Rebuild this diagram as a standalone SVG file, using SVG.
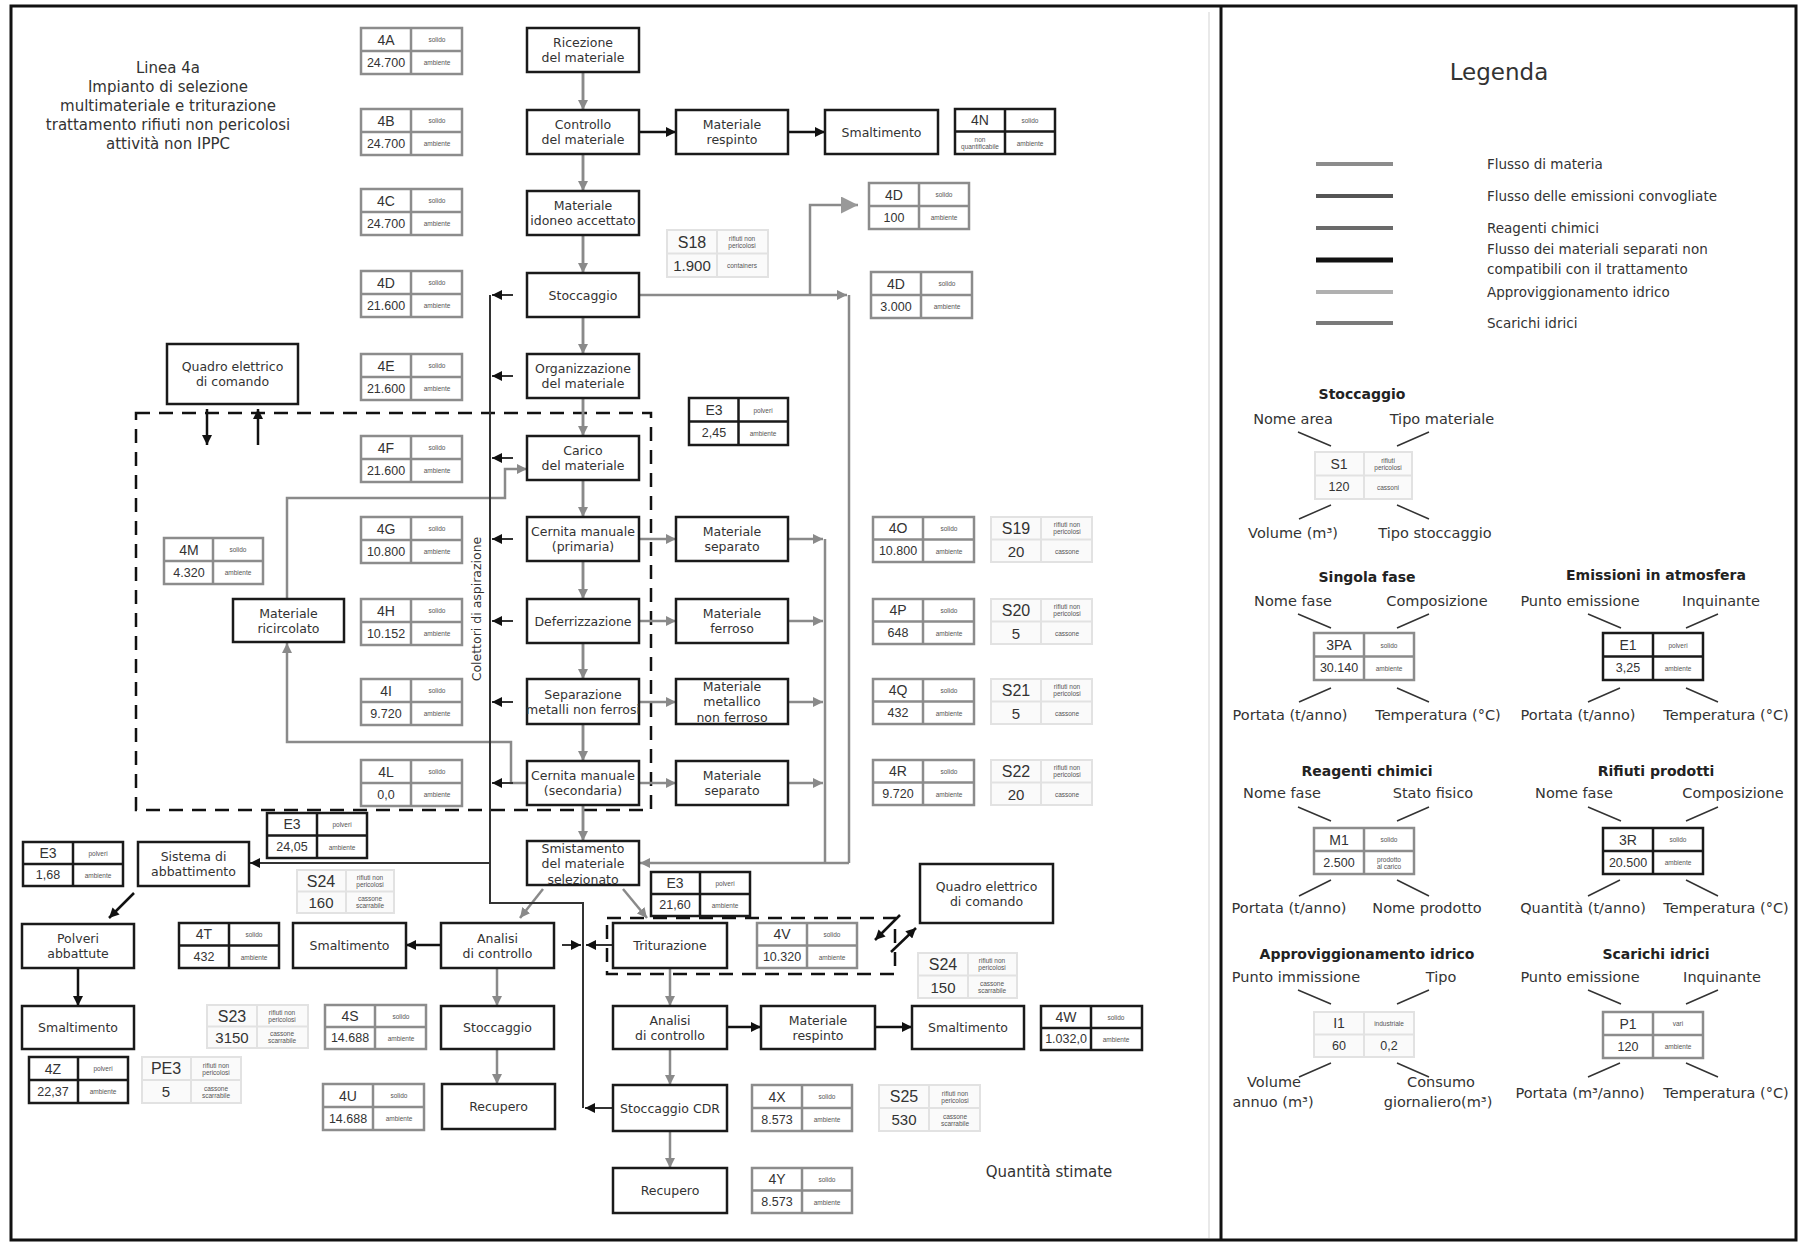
<svg xmlns="http://www.w3.org/2000/svg" width="1798" height="1242" viewBox="0 0 1798 1242">
<style>
.box{fill:#fff;stroke:#1a1a1a;stroke-width:2.5}
.bt{font-family:'DejaVu Sans',sans-serif;font-size:12.5px;fill:#333;text-anchor:middle;dominant-baseline:central}
.tg rect,.tg path{fill:#fff;stroke:#8c8c8c;stroke-width:2.5}
.tb rect,.tb path{fill:#fff;stroke:#1a1a1a;stroke-width:2.5}
.tl rect,.tl path{fill:#fafafa;stroke:#e2e2e2;stroke-width:2}
.tg path,.tb path,.tl path{fill:none}
.ti{font-family:'Liberation Sans',sans-serif;font-size:14px;fill:#333;text-anchor:middle;dominant-baseline:central}
.tv{font-family:'Liberation Sans',sans-serif;font-size:12.5px;fill:#333;text-anchor:middle;dominant-baseline:central}
.si{font-family:'Liberation Sans',sans-serif;font-size:16px;fill:#333;text-anchor:middle;dominant-baseline:central}
.sv{font-family:'Liberation Sans',sans-serif;font-size:15px;fill:#333;text-anchor:middle;dominant-baseline:central}
.ts{font-family:'Liberation Sans',sans-serif;font-size:6.5px;fill:#555;text-anchor:middle;dominant-baseline:central}
.cg{fill:none;stroke:#8a8a8a;stroke-width:2.5}
.ck{fill:none;stroke:#111;stroke-width:2.5}
.ce{fill:none;stroke:#333;stroke-width:2}
.dash{fill:none;stroke:#111;stroke-width:2.5;stroke-dasharray:14 9}
.lt{font-family:'DejaVu Sans',sans-serif;font-size:14.5px;fill:#333;text-anchor:middle;dominant-baseline:central}
.lh{font-family:'DejaVu Sans',sans-serif;font-size:14px;font-weight:bold;fill:#222;text-anchor:middle;dominant-baseline:central}
.ll{font-family:'DejaVu Sans',sans-serif;font-size:13.5px;fill:#333;dominant-baseline:central}
.lk{fill:none;stroke:#333;stroke-width:1.5}
.title{font-family:'DejaVu Sans',sans-serif;font-size:15px;fill:#333;text-anchor:middle;dominant-baseline:central}
</style>
<defs>
<marker id="mg" viewBox="0 0 10 10" refX="10" refY="5" markerWidth="10" markerHeight="10" markerUnits="userSpaceOnUse" orient="auto"><path d="M0,0 L10,5 L0,10 z" fill="#8a8a8a"/></marker>
<marker id="mk" viewBox="0 0 10 10" refX="10" refY="5" markerWidth="10" markerHeight="10" markerUnits="userSpaceOnUse" orient="auto"><path d="M0,0 L10,5 L0,10 z" fill="#111"/></marker>
<marker id="mb" viewBox="0 0 10 10" refX="10" refY="5" markerWidth="17" markerHeight="17" markerUnits="userSpaceOnUse" orient="auto"><path d="M0,0 L10,5 L0,10 z" fill="#999"/></marker>
</defs>
<rect width="1798" height="1242" fill="#fff"/>
<g id="frame">
<rect x="11" y="6" width="1785" height="1234" fill="none" stroke="#111" stroke-width="3"/>
<line x1="1209" y1="12" x2="1209" y2="1238" stroke="#e2e2e2" stroke-width="1.5"/>
<line x1="1221" y1="6" x2="1221" y2="1240" stroke="#111" stroke-width="3"/>
</g>
<g id="title">
<text class="title" x="168" y="68">Linea 4a</text>
<text class="title" x="168" y="87">Impianto di selezione</text>
<text class="title" x="168" y="106">multimateriale e triturazione</text>
<text class="title" x="168" y="125">trattamento rifiuti non pericolosi</text>
<text class="title" x="168" y="144">attività non IPPC</text>
</g>
<g id="dashed">
<rect class="dash" x="136" y="413" width="515" height="397"/>
<rect class="dash" x="607" y="918" width="288" height="56"/>
</g>
<g id="connectors">
<path class="cg" d="M583,72V110M583,154V191M583,235V273M583,317V354M583,398V436M583,480V517M583,561V599M583,643V679M583,724V761M583,805V841"/>
<path class="cg" marker-end="url(#mg)" d="M583,72V110"/><path class="cg" marker-end="url(#mg)" d="M583,154V191"/><path class="cg" marker-end="url(#mg)" d="M583,235V273"/><path class="cg" marker-end="url(#mg)" d="M583,317V354"/><path class="cg" marker-end="url(#mg)" d="M583,398V436"/><path class="cg" marker-end="url(#mg)" d="M583,480V517"/><path class="cg" marker-end="url(#mg)" d="M583,561V599"/><path class="cg" marker-end="url(#mg)" d="M583,643V679"/><path class="cg" marker-end="url(#mg)" d="M583,724V761"/><path class="cg" marker-end="url(#mg)" d="M583,805V841"/>
<path class="ck" marker-end="url(#mk)" d="M639,132H676"/>
<path class="ck" marker-end="url(#mk)" d="M788,132H825"/>
<path class="cg" marker-end="url(#mg)" d="M639,295H847"/>
<path class="cg" d="M849,295V863"/>
<path class="cg" marker-end="url(#mb)" d="M810,295V205H858"/>
<path class="cg" marker-end="url(#mg)" d="M639,539H676"/><path class="cg" marker-end="url(#mg)" d="M639,621H676"/><path class="cg" marker-end="url(#mg)" d="M639,702H676"/><path class="cg" marker-end="url(#mg)" d="M639,783H676"/>
<path class="cg" marker-end="url(#mg)" d="M788,539H823"/><path class="cg" marker-end="url(#mg)" d="M788,621H823"/><path class="cg" marker-end="url(#mg)" d="M788,702H823"/><path class="cg" marker-end="url(#mg)" d="M788,783H823"/>
<path class="cg" d="M825,539V863"/>
<path class="cg" marker-end="url(#mg)" d="M849,863H640"/>
<path class="cg" marker-end="url(#mg)" d="M543,889L520,918"/>
<path class="cg" marker-end="url(#mg)" d="M623,889L647,918"/>
<path class="cg" marker-end="url(#mg)" d="M497,968V1006"/><path class="cg" marker-end="url(#mg)" d="M497,1049V1084"/>
<path class="cg" marker-end="url(#mg)" d="M670,968V1006"/><path class="cg" marker-end="url(#mg)" d="M670,1049V1085"/><path class="cg" marker-end="url(#mg)" d="M670,1131V1168"/>
<path class="cg" marker-end="url(#mg)" d="M527,783H511V742H287V643"/>
<path class="cg" marker-end="url(#mg)" d="M287,599V498H505V469H527"/>
<path class="ck" marker-end="url(#mk)" d="M441,945H406"/>
<path class="ck" marker-end="url(#mk)" d="M727,1027H761"/>
<path class="ck" marker-end="url(#mk)" d="M875,1027H912"/>
<path class="ck" marker-end="url(#mk)" d="M78,968V1006"/>
<path class="ck" marker-end="url(#mk)" d="M134,893L109,918"/>
<path class="ck" marker-end="url(#mk)" d="M207,409V445"/>
<path class="ck" marker-end="url(#mk)" d="M258,445V409"/>
<path class="ck" marker-end="url(#mk)" d="M900,915L875,940"/>
<path class="ck" marker-end="url(#mk)" d="M891,952L916,928"/>
<path class="ce" d="M490,295V903H583V1108"/>
<path class="ce" marker-end="url(#mk)" d="M513,295H492"/><path class="ce" marker-end="url(#mk)" d="M513,376H492"/><path class="ce" marker-end="url(#mk)" d="M513,458H492"/><path class="ce" marker-end="url(#mk)" d="M513,539H492"/><path class="ce" marker-end="url(#mk)" d="M513,621H492"/><path class="ce" marker-end="url(#mk)" d="M513,702H492"/><path class="ce" marker-end="url(#mk)" d="M513,783H492"/>
<path class="ce" marker-end="url(#mk)" d="M490,863H250"/>
<path class="ce" marker-end="url(#mk)" d="M562,945H581"/>
<path class="ce" marker-end="url(#mk)" d="M613,945H586"/>
<path class="ce" marker-end="url(#mk)" d="M613,1108H585"/>
</g>
<text class="bt" transform="rotate(-90 476 609)" x="476" y="609">Colettori di aspirazione</text>
<g id="n-ricezione"><rect class="box" x="527" y="28" width="112" height="44"/><text class="bt" x="583" y="42.5">Ricezione</text><text class="bt" x="583" y="57.5">del materiale</text></g>
<g id="n-controllo"><rect class="box" x="527" y="110" width="112" height="44"/><text class="bt" x="583" y="124.5">Controllo</text><text class="bt" x="583" y="139.5">del materiale</text></g>
<g id="n-idoneo"><rect class="box" x="527" y="191" width="112" height="44"/><text class="bt" x="583" y="205.5">Materiale</text><text class="bt" x="583" y="220.5">idoneo accettato</text></g>
<g id="n-stoccaggio"><rect class="box" x="527" y="273" width="112" height="44"/><text class="bt" x="583" y="295">Stoccaggio</text></g>
<g id="n-organizzazione"><rect class="box" x="527" y="354" width="112" height="44"/><text class="bt" x="583" y="368.5">Organizzazione</text><text class="bt" x="583" y="383.5">del materiale</text></g>
<g id="n-carico"><rect class="box" x="527" y="436" width="112" height="44"/><text class="bt" x="583" y="450.5">Carico</text><text class="bt" x="583" y="465.5">del materiale</text></g>
<g id="n-cernita1"><rect class="box" x="527" y="517" width="112" height="44"/><text class="bt" x="583" y="531.5">Cernita manuale</text><text class="bt" x="583" y="546.5">(primaria)</text></g>
<g id="n-deferr"><rect class="box" x="527" y="599" width="112" height="44"/><text class="bt" x="583" y="621">Deferrizzazione</text></g>
<g id="n-separazione"><rect class="box" x="527" y="679" width="112" height="45"/><text class="bt" x="583" y="694">Separazione</text><text class="bt" x="583" y="709">metalli non ferrosi</text></g>
<g id="n-cernita2"><rect class="box" x="527" y="761" width="112" height="44"/><text class="bt" x="583" y="775.5">Cernita manuale</text><text class="bt" x="583" y="790.5">(secondaria)</text></g>
<g id="n-smistamento"><rect class="box" x="527" y="841" width="112" height="44"/><text class="bt" x="583" y="848">Smistamento</text><text class="bt" x="583" y="863.5">del materiale</text><text class="bt" x="583" y="879">selezionato</text></g>
<g id="n-respinto1"><rect class="box" x="676" y="110" width="112" height="44"/><text class="bt" x="732" y="124.5">Materiale</text><text class="bt" x="732" y="139.5">respinto</text></g>
<g id="n-smalt1"><rect class="box" x="825" y="110" width="113" height="44"/><text class="bt" x="881.5" y="132">Smaltimento</text></g>
<g id="n-sep1"><rect class="box" x="676" y="517" width="112" height="44"/><text class="bt" x="732" y="531.5">Materiale</text><text class="bt" x="732" y="546.5">separato</text></g>
<g id="n-ferroso"><rect class="box" x="676" y="599" width="112" height="44"/><text class="bt" x="732" y="613.5">Materiale</text><text class="bt" x="732" y="628.5">ferroso</text></g>
<g id="n-metallico"><rect class="box" x="676" y="679" width="112" height="45"/><text class="bt" x="732" y="686">Materiale</text><text class="bt" x="732" y="701.5">metallico</text><text class="bt" x="732" y="717">non ferroso</text></g>
<g id="n-sep2"><rect class="box" x="676" y="761" width="112" height="44"/><text class="bt" x="732" y="775.5">Materiale</text><text class="bt" x="732" y="790.5">separato</text></g>
<g id="n-quadro1"><rect class="box" x="167" y="344" width="131" height="60"/><text class="bt" x="232.5" y="366.5">Quadro elettrico</text><text class="bt" x="232.5" y="381.5">di comando</text></g>
<g id="n-ricircolato"><rect class="box" x="233" y="599" width="111" height="43"/><text class="bt" x="288.5" y="613">Materiale</text><text class="bt" x="288.5" y="628">ricircolato</text></g>
<g id="n-sistema"><rect class="box" x="138" y="842" width="111" height="44"/><text class="bt" x="193.5" y="856.5">Sistema di</text><text class="bt" x="193.5" y="871.5">abbattimento</text></g>
<g id="n-polveri"><rect class="box" x="22" y="924" width="112" height="44"/><text class="bt" x="78" y="938.5">Polveri</text><text class="bt" x="78" y="953.5">abbattute</text></g>
<g id="n-smalt2"><rect class="box" x="22" y="1006" width="112" height="43"/><text class="bt" x="78" y="1027.5">Smaltimento</text></g>
<g id="n-smalt3"><rect class="box" x="293" y="923" width="113" height="45"/><text class="bt" x="349.5" y="945.5">Smaltimento</text></g>
<g id="n-analisi1"><rect class="box" x="441" y="923" width="113" height="45"/><text class="bt" x="497.5" y="938">Analisi</text><text class="bt" x="497.5" y="953">di controllo</text></g>
<g id="n-stocc2"><rect class="box" x="441" y="1006" width="113" height="43"/><text class="bt" x="497.5" y="1027.5">Stoccaggio</text></g>
<g id="n-recupero1"><rect class="box" x="442" y="1084" width="113" height="45"/><text class="bt" x="498.5" y="1106.5">Recupero</text></g>
<g id="n-triturazione"><rect class="box" x="613" y="923" width="114" height="45"/><text class="bt" x="670" y="945.5">Triturazione</text></g>
<g id="n-quadro2"><rect class="box" x="920" y="864" width="133" height="59"/><text class="bt" x="986.5" y="886">Quadro elettrico</text><text class="bt" x="986.5" y="901">di comando</text></g>
<g id="n-analisi2"><rect class="box" x="613" y="1006" width="114" height="43"/><text class="bt" x="670" y="1020">Analisi</text><text class="bt" x="670" y="1035">di controllo</text></g>
<g id="n-respinto2"><rect class="box" x="761" y="1006" width="114" height="43"/><text class="bt" x="818" y="1020">Materiale</text><text class="bt" x="818" y="1035">respinto</text></g>
<g id="n-smalt4"><rect class="box" x="912" y="1006" width="112" height="43"/><text class="bt" x="968" y="1027.5">Smaltimento</text></g>
<g id="n-cdr"><rect class="box" x="613" y="1085" width="114" height="46"/><text class="bt" x="670" y="1108">Stoccaggio CDR</text></g>
<g id="n-recupero2"><rect class="box" x="613" y="1168" width="114" height="45"/><text class="bt" x="670" y="1190.5">Recupero</text></g>
<g id="t4A" class="tg"><rect x="361" y="28" width="101" height="46"/><path d="M411,28V74M361,51H462"/><text class="ti" x="386" y="39.5">4A</text><text class="ts" x="437" y="39.5">solido</text><text class="tv" x="386" y="62.5">24.700</text><text class="ts" x="437" y="62.5">ambiente</text></g>
<g id="t4B" class="tg"><rect x="361" y="109" width="101" height="46"/><path d="M411,109V155M361,132H462"/><text class="ti" x="386" y="120.5">4B</text><text class="ts" x="437" y="120.5">solido</text><text class="tv" x="386" y="143.5">24.700</text><text class="ts" x="437" y="143.5">ambiente</text></g>
<g id="t4C" class="tg"><rect x="361" y="189" width="101" height="46"/><path d="M411,189V235M361,212H462"/><text class="ti" x="386" y="200.5">4C</text><text class="ts" x="437" y="200.5">solido</text><text class="tv" x="386" y="223.5">24.700</text><text class="ts" x="437" y="223.5">ambiente</text></g>
<g id="t4D" class="tg"><rect x="361" y="271" width="101" height="46"/><path d="M411,271V317M361,294H462"/><text class="ti" x="386" y="282.5">4D</text><text class="ts" x="437" y="282.5">solido</text><text class="tv" x="386" y="305.5">21.600</text><text class="ts" x="437" y="305.5">ambiente</text></g>
<g id="t4E" class="tg"><rect x="361" y="354" width="101" height="46"/><path d="M411,354V400M361,377H462"/><text class="ti" x="386" y="365.5">4E</text><text class="ts" x="437" y="365.5">solido</text><text class="tv" x="386" y="388.5">21.600</text><text class="ts" x="437" y="388.5">ambiente</text></g>
<g id="t4F" class="tg"><rect x="361" y="436" width="101" height="46"/><path d="M411,436V482M361,459H462"/><text class="ti" x="386" y="447.5">4F</text><text class="ts" x="437" y="447.5">solido</text><text class="tv" x="386" y="470.5">21.600</text><text class="ts" x="437" y="470.5">ambiente</text></g>
<g id="t4G" class="tg"><rect x="361" y="517" width="101" height="46"/><path d="M411,517V563M361,540H462"/><text class="ti" x="386" y="528.5">4G</text><text class="ts" x="437" y="528.5">solido</text><text class="tv" x="386" y="551.5">10.800</text><text class="ts" x="437" y="551.5">ambiente</text></g>
<g id="t4H" class="tg"><rect x="361" y="599" width="101" height="46"/><path d="M411,599V645M361,622H462"/><text class="ti" x="386" y="610.5">4H</text><text class="ts" x="437" y="610.5">solido</text><text class="tv" x="386" y="633.5">10.152</text><text class="ts" x="437" y="633.5">ambiente</text></g>
<g id="t4I" class="tg"><rect x="361" y="679" width="101" height="46"/><path d="M411,679V725M361,702H462"/><text class="ti" x="386" y="690.5">4I</text><text class="ts" x="437" y="690.5">solido</text><text class="tv" x="386" y="713.5">9.720</text><text class="ts" x="437" y="713.5">ambiente</text></g>
<g id="t4L" class="tg"><rect x="361" y="760" width="101" height="46"/><path d="M411,760V806M361,783H462"/><text class="ti" x="386" y="771.5">4L</text><text class="ts" x="437" y="771.5">solido</text><text class="tv" x="386" y="794.5">0,0</text><text class="ts" x="437" y="794.5">ambiente</text></g>
<g id="t4M" class="tg"><rect x="164" y="538" width="99" height="46"/><path d="M213,538V584M164,561H263"/><text class="ti" x="189" y="549.5">4M</text><text class="ts" x="238" y="549.5">solido</text><text class="tv" x="189" y="572.5">4.320</text><text class="ts" x="238" y="572.5">ambiente</text></g>
<g id="t4D2" class="tg"><rect x="869" y="183" width="100" height="46"/><path d="M919,183V229M869,206H969"/><text class="ti" x="894" y="194.5">4D</text><text class="ts" x="944" y="194.5">solido</text><text class="tv" x="894" y="217.5">100</text><text class="ts" x="944" y="217.5">ambiente</text></g>
<g id="t4D3" class="tg"><rect x="871" y="272" width="101" height="46"/><path d="M921,272V318M871,295H972"/><text class="ti" x="896" y="283.5">4D</text><text class="ts" x="947" y="283.5">solido</text><text class="tv" x="896" y="306.5">3.000</text><text class="ts" x="947" y="306.5">ambiente</text></g>
<g id="t4O" class="tg"><rect x="873" y="517" width="101" height="45"/><path d="M923,517V562M873,539.5H974"/><text class="ti" x="898" y="528">4O</text><text class="ts" x="949" y="528">solido</text><text class="tv" x="898" y="551">10.800</text><text class="ts" x="949" y="551">ambiente</text></g>
<g id="t4P" class="tg"><rect x="873" y="599" width="101" height="45"/><path d="M923,599V644M873,621.5H974"/><text class="ti" x="898" y="610">4P</text><text class="ts" x="949" y="610">solido</text><text class="tv" x="898" y="633">648</text><text class="ts" x="949" y="633">ambiente</text></g>
<g id="t4Q" class="tg"><rect x="873" y="679" width="101" height="45"/><path d="M923,679V724M873,701.5H974"/><text class="ti" x="898" y="690">4Q</text><text class="ts" x="949" y="690">solido</text><text class="tv" x="898" y="713">432</text><text class="ts" x="949" y="713">ambiente</text></g>
<g id="t4R" class="tg"><rect x="873" y="760" width="101" height="45"/><path d="M923,760V805M873,782.5H974"/><text class="ti" x="898" y="771">4R</text><text class="ts" x="949" y="771">solido</text><text class="tv" x="898" y="794">9.720</text><text class="ts" x="949" y="794">ambiente</text></g>
<g id="t4S" class="tg"><rect x="325" y="1005" width="101" height="44"/><path d="M375,1005V1049M325,1027H426"/><text class="ti" x="350" y="1016">4S</text><text class="ts" x="401" y="1016">solido</text><text class="tv" x="350" y="1038">14.688</text><text class="ts" x="401" y="1038">ambiente</text></g>
<g id="t4U" class="tg"><rect x="323" y="1084" width="101" height="46"/><path d="M373,1084V1130M323,1107H424"/><text class="ti" x="348" y="1095.5">4U</text><text class="ts" x="399" y="1095.5">solido</text><text class="tv" x="348" y="1118.5">14.688</text><text class="ts" x="399" y="1118.5">ambiente</text></g>
<g id="t4V" class="tg"><rect x="757" y="923" width="100" height="45"/><path d="M807,923V968M757,945.5H857"/><text class="ti" x="782" y="934">4V</text><text class="ts" x="832" y="934">solido</text><text class="tv" x="782" y="957">10.320</text><text class="ts" x="832" y="957">ambiente</text></g>
<g id="t4X" class="tg"><rect x="752" y="1085" width="100" height="46"/><path d="M802,1085V1131M752,1108H852"/><text class="ti" x="777" y="1096.5">4X</text><text class="ts" x="827" y="1096.5">solido</text><text class="tv" x="777" y="1119.5">8.573</text><text class="ts" x="827" y="1119.5">ambiente</text></g>
<g id="t4Y" class="tg"><rect x="752" y="1168" width="100" height="45"/><path d="M802,1168V1213M752,1190.5H852"/><text class="ti" x="777" y="1179">4Y</text><text class="ts" x="827" y="1179">solido</text><text class="tv" x="777" y="1202">8.573</text><text class="ts" x="827" y="1202">ambiente</text></g>
<g id="t4N" class="tb"><rect x="955" y="109" width="100" height="45"/><path d="M1005,109V154M955,131.5H1055"/><text class="ti" x="980" y="120">4N</text><text class="ts" x="1030" y="120">solido</text><text class="ts" x="980" y="139.5">non</text><text class="ts" x="980" y="146.5">quantificabile</text><text class="ts" x="1030" y="143">ambiente</text></g>
<g id="tE3a" class="tb"><rect x="689" y="398" width="99" height="47"/><path d="M738.5,398V445M689,421.5H788"/><text class="ti" x="714" y="410">E3</text><text class="ts" x="763" y="410">polveri</text><text class="tv" x="714" y="433">2,45</text><text class="ts" x="763" y="433">ambiente</text></g>
<g id="tE3b" class="tb"><rect x="267" y="813" width="100" height="45"/><path d="M317,813V858M267,835.5H367"/><text class="ti" x="292" y="824">E3</text><text class="ts" x="342" y="824">polveri</text><text class="tv" x="292" y="847">24,05</text><text class="ts" x="342" y="847">ambiente</text></g>
<g id="tE3c" class="tb"><rect x="23" y="842" width="100" height="44"/><path d="M73,842V886M23,864H123"/><text class="ti" x="48" y="853">E3</text><text class="ts" x="98" y="853">polveri</text><text class="tv" x="48" y="875">1,68</text><text class="ts" x="98" y="875">ambiente</text></g>
<g id="tE3d" class="tb"><rect x="651" y="872" width="99" height="44"/><path d="M700,872V916M651,894H750"/><text class="ti" x="675" y="883">E3</text><text class="ts" x="725" y="883">polveri</text><text class="tv" x="675" y="905">21,60</text><text class="ts" x="725" y="905">ambiente</text></g>
<g id="t4T" class="tb"><rect x="179" y="923" width="100" height="45"/><path d="M229,923V968M179,945.5H279"/><text class="ti" x="204" y="934">4T</text><text class="ts" x="254" y="934">solido</text><text class="tv" x="204" y="957">432</text><text class="ts" x="254" y="957">ambiente</text></g>
<g id="t4Z" class="tb"><rect x="29" y="1057" width="99" height="46"/><path d="M78,1057V1103M29,1080H128"/><text class="ti" x="53" y="1068.5">4Z</text><text class="ts" x="103" y="1068.5">polveri</text><text class="tv" x="53" y="1091.5">22,37</text><text class="ts" x="103" y="1091.5">ambiente</text></g>
<g id="t4W" class="tb"><rect x="1041" y="1006" width="101" height="44"/><path d="M1091,1006V1050M1041,1028H1142"/><text class="ti" x="1066" y="1017">4W</text><text class="ts" x="1116" y="1017">solido</text><text class="tv" x="1066" y="1039">1.032,0</text><text class="ts" x="1116" y="1039">ambiente</text></g>
<g id="tS18" class="tl"><rect x="667" y="230" width="101" height="47"/><path d="M717,230V277M667,253.5H768"/><text class="si" x="692" y="242">S18</text><text class="ts" x="742" y="238.5">rifiuti non</text><text class="ts" x="742" y="245.5">pericolosi</text><text class="sv" x="692" y="265">1.900</text><text class="ts" x="742" y="265">containers</text></g>
<g id="tS19" class="tl"><rect x="991" y="517" width="101" height="45"/><path d="M1041,517V562M991,539.5H1092"/><text class="si" x="1016" y="528">S19</text><text class="ts" x="1067" y="524.5">rifiuti non</text><text class="ts" x="1067" y="531.5">pericolosi</text><text class="sv" x="1016" y="551">20</text><text class="ts" x="1067" y="551">cassone</text></g>
<g id="tS20" class="tl"><rect x="991" y="599" width="101" height="45"/><path d="M1041,599V644M991,621.5H1092"/><text class="si" x="1016" y="610">S20</text><text class="ts" x="1067" y="606.5">rifiuti non</text><text class="ts" x="1067" y="613.5">pericolosi</text><text class="sv" x="1016" y="633">5</text><text class="ts" x="1067" y="633">cassone</text></g>
<g id="tS21" class="tl"><rect x="991" y="679" width="101" height="45"/><path d="M1041,679V724M991,701.5H1092"/><text class="si" x="1016" y="690">S21</text><text class="ts" x="1067" y="686.5">rifiuti non</text><text class="ts" x="1067" y="693.5">pericolosi</text><text class="sv" x="1016" y="713">5</text><text class="ts" x="1067" y="713">cassone</text></g>
<g id="tS22" class="tl"><rect x="991" y="760" width="101" height="45"/><path d="M1041,760V805M991,782.5H1092"/><text class="si" x="1016" y="771">S22</text><text class="ts" x="1067" y="767.5">rifiuti non</text><text class="ts" x="1067" y="774.5">pericolosi</text><text class="sv" x="1016" y="794">20</text><text class="ts" x="1067" y="794">cassone</text></g>
<g id="tS24a" class="tl"><rect x="297" y="870" width="97" height="43"/><path d="M346,870V913M297,891.5H394"/><text class="si" x="321" y="881">S24</text><text class="ts" x="370" y="877.5">rifiuti non</text><text class="ts" x="370" y="884.5">pericolosi</text><text class="sv" x="321" y="902">160</text><text class="ts" x="370" y="898.5">cassone</text><text class="ts" x="370" y="905.5">scarrabile</text></g>
<g id="tS23" class="tl"><rect x="207" y="1005" width="101" height="43"/><path d="M257,1005V1048M207,1026.5H308"/><text class="si" x="232" y="1016">S23</text><text class="ts" x="282" y="1012.5">rifiuti non</text><text class="ts" x="282" y="1019.5">pericolosi</text><text class="sv" x="232" y="1037">3150</text><text class="ts" x="282" y="1033.5">cassone</text><text class="ts" x="282" y="1040.5">scarrabile</text></g>
<g id="tPE3" class="tl"><rect x="142" y="1057" width="99" height="46"/><path d="M191,1057V1103M142,1080H241"/><text class="si" x="166" y="1068.5">PE3</text><text class="ts" x="216" y="1065">rifiuti non</text><text class="ts" x="216" y="1072">pericolosi</text><text class="sv" x="166" y="1091.5">5</text><text class="ts" x="216" y="1088">cassone</text><text class="ts" x="216" y="1095">scarrabile</text></g>
<g id="tS24b" class="tl"><rect x="918" y="953" width="99" height="45"/><path d="M968,953V998M918,975.5H1017"/><text class="si" x="943" y="964">S24</text><text class="ts" x="992" y="960.5">rifiuti non</text><text class="ts" x="992" y="967.5">pericolosi</text><text class="sv" x="943" y="987">150</text><text class="ts" x="992" y="983.5">cassone</text><text class="ts" x="992" y="990.5">scarrabile</text></g>
<g id="tS25" class="tl"><rect x="879" y="1085" width="101" height="46"/><path d="M929,1085V1131M879,1108H980"/><text class="si" x="904" y="1096.5">S25</text><text class="ts" x="955" y="1093">rifiuti non</text><text class="ts" x="955" y="1100">pericolosi</text><text class="sv" x="904" y="1119.5">530</text><text class="ts" x="955" y="1116">cassone</text><text class="ts" x="955" y="1123">scarrabile</text></g>
<text x="1049" y="1172" font-family="'DejaVu Sans',sans-serif" font-size="15" fill="#333" text-anchor="middle" dominant-baseline="central">Quantità stimate</text>
<g id="legend">
<text x="1499" y="72" font-family="'DejaVu Sans',sans-serif" font-size="23" fill="#333" text-anchor="middle" dominant-baseline="central">Legenda</text>
<line x1="1316" y1="164" x2="1393" y2="164" stroke="#8c8c8c" stroke-width="4"/>
<line x1="1316" y1="196" x2="1393" y2="196" stroke="#555" stroke-width="4"/>
<line x1="1316" y1="228" x2="1393" y2="228" stroke="#6a6a6a" stroke-width="4"/>
<line x1="1316" y1="260" x2="1393" y2="260" stroke="#111" stroke-width="5"/>
<line x1="1316" y1="292" x2="1393" y2="292" stroke="#b0b0b0" stroke-width="4"/>
<line x1="1316" y1="323" x2="1393" y2="323" stroke="#7a7a7a" stroke-width="4"/>
<text class="ll" x="1487" y="164">Flusso di materia</text>
<text class="ll" x="1487" y="196">Flusso delle emissioni convogliate</text>
<text class="ll" x="1487" y="228">Reagenti chimici</text>
<text class="ll" x="1487" y="249">Flusso dei materiali separati non</text>
<text class="ll" x="1487" y="269">compatibili con il trattamento</text>
<text class="ll" x="1487" y="292">Approviggionamento idrico</text>
<text class="ll" x="1487" y="323">Scarichi idrici</text>
<text class="lh" x="1362" y="394">Stoccaggio</text>
<text class="lt" x="1293" y="419">Nome area</text><text class="lt" x="1442" y="419">Tipo materiale</text>
<path class="lk" d="M1298,432L1331,446M1429,432L1397,446M1331,505L1299,519M1397,505L1429,519"/>
<g class="tl"><rect x="1315" y="452" width="97" height="47"/><path d="M1364,452V499M1315,475.5H1412"/></g>
<text class="ti" x="1339" y="464">S1</text><text class="ts" x="1388" y="460.5">rifiuti</text><text class="ts" x="1388" y="467.5">pericolosi</text><text class="tv" x="1339" y="487">120</text><text class="ts" x="1388" y="487">cassoni</text>
<text class="lt" x="1293" y="533">Volume (m³)</text><text class="lt" x="1435" y="533">Tipo stoccaggio</text>
<text class="lh" x="1367" y="577">Singola fase</text>
<text class="lh" x="1656" y="575">Emissioni in atmosfera</text>
<text class="lt" x="1293" y="601">Nome fase</text><text class="lt" x="1437" y="601">Composizione</text>
<text class="lt" x="1580" y="601">Punto emissione</text><text class="lt" x="1721" y="601">Inquinante</text>
<path class="lk" d="M1298,614L1331,628M1429,614L1397,628M1331,688L1299,702M1397,688L1429,702M1588,614L1621,628M1718,614L1686,628M1620,688L1588,702M1686,688L1718,702"/>
<g class="tg"><rect x="1314" y="633" width="100" height="47"/><path d="M1364,633V680M1314,656.5H1414"/></g>
<text class="ti" x="1339" y="645">3PA</text><text class="ts" x="1389" y="645">solido</text><text class="tv" x="1339" y="668">30.140</text><text class="ts" x="1389" y="668">ambiente</text>
<g class="tb"><rect x="1603" y="633" width="100" height="47"/><path d="M1653,633V680M1603,656.5H1703"/></g>
<text class="ti" x="1628" y="645">E1</text><text class="ts" x="1678" y="645">polveri</text><text class="tv" x="1628" y="668">3,25</text><text class="ts" x="1678" y="668">ambiente</text>
<text class="lt" x="1290" y="715">Portata (t/anno)</text><text class="lt" x="1438" y="715">Temperatura (°C)</text>
<text class="lt" x="1578" y="715">Portata (t/anno)</text><text class="lt" x="1726" y="715">Temperatura (°C)</text>
<text class="lh" x="1367" y="771">Reagenti chimici</text>
<text class="lh" x="1656" y="771">Rifiuti prodotti</text>
<text class="lt" x="1282" y="793">Nome fase</text><text class="lt" x="1433" y="793">Stato fisico</text>
<text class="lt" x="1574" y="793">Nome fase</text><text class="lt" x="1733" y="793">Composizione</text>
<path class="lk" d="M1298,807L1331,821M1429,807L1397,821M1331,880L1299,896M1397,880L1429,896M1588,807L1621,821M1718,807L1686,821M1620,880L1588,896M1686,880L1718,896"/>
<g class="tg"><rect x="1314" y="828" width="100" height="46"/><path d="M1364,828V874M1314,851H1414"/></g>
<text class="ti" x="1339" y="839.5">M1</text><text class="ts" x="1389" y="839.5">solido</text><text class="tv" x="1339" y="862.5">2.500</text><text class="ts" x="1389" y="859">prodotto</text><text class="ts" x="1389" y="866">al carico</text>
<g class="tb"><rect x="1603" y="828" width="100" height="46"/><path d="M1653,828V874M1603,851H1703"/></g>
<text class="ti" x="1628" y="839.5">3R</text><text class="ts" x="1678" y="839.5">solido</text><text class="tv" x="1628" y="862.5">20.500</text><text class="ts" x="1678" y="862.5">ambiente</text>
<text class="lt" x="1289" y="908">Portata (t/anno)</text><text class="lt" x="1427" y="908">Nome prodotto</text>
<text class="lt" x="1583" y="908">Quantità (t/anno)</text><text class="lt" x="1726" y="908">Temperatura (°C)</text>
<text class="lh" x="1367" y="954">Approviggionamento idrico</text>
<text class="lh" x="1656" y="954">Scarichi idrici</text>
<text class="lt" x="1296" y="977">Punto immissione</text><text class="lt" x="1441" y="977">Tipo</text>
<text class="lt" x="1580" y="977">Punto emissione</text><text class="lt" x="1722" y="977">Inquinante</text>
<path class="lk" d="M1298,990L1331,1004M1429,990L1397,1004M1331,1063L1299,1077M1397,1063L1429,1077M1588,990L1621,1004M1718,990L1686,1004M1620,1063L1588,1077M1686,1063L1718,1077"/>
<g class="tl"><rect x="1314" y="1012" width="100" height="45"/><path d="M1364,1012V1057M1314,1034.5H1414"/></g>
<text class="ti" x="1339" y="1023">I1</text><text class="ts" x="1389" y="1023">industriale</text><text class="tv" x="1339" y="1046">60</text><text class="tv" x="1389" y="1046">0,2</text>
<g class="tg"><rect x="1603" y="1012" width="100" height="46"/><path d="M1653,1012V1058M1603,1035H1703"/></g>
<text class="ti" x="1628" y="1023.5">P1</text><text class="ts" x="1678" y="1023.5">vari</text><text class="tv" x="1628" y="1046.5">120</text><text class="ts" x="1678" y="1046.5">ambiente</text>
<text class="lt" x="1274" y="1082">Volume</text><text class="lt" x="1273" y="1102">annuo (m³)</text>
<text class="lt" x="1441" y="1082">Consumo</text><text class="lt" x="1438" y="1102">giornaliero(m³)</text>
<text class="lt" x="1580" y="1093">Portata (m³/anno)</text><text class="lt" x="1726" y="1093">Temperatura (°C)</text>
</g>
</svg>
